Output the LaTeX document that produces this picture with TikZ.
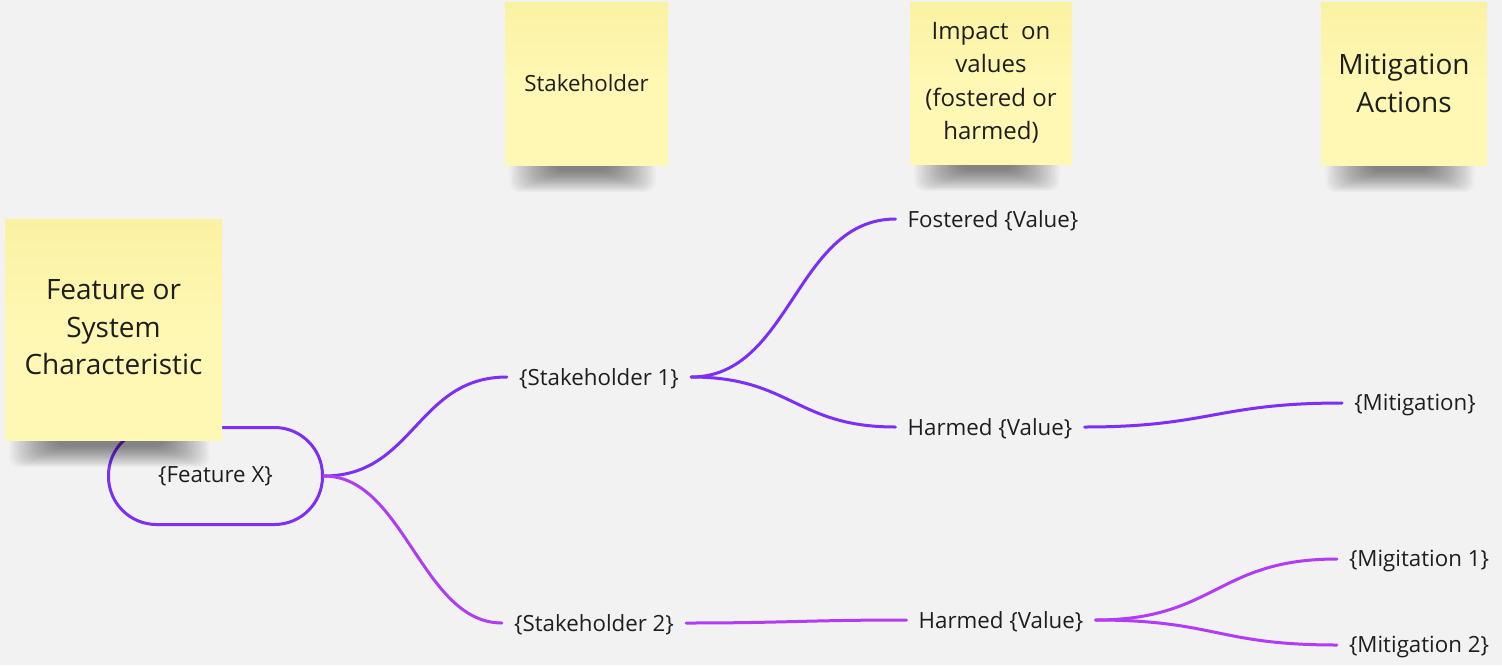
\documentclass[tikz,border=0pt]{standalone}
\usepackage{fontspec}
\setmainfont{Open Sans}
\definecolor{bg}{HTML}{F2F2F2}
\definecolor{notetop}{HTML}{FAF1A2}
\definecolor{notebot}{HTML}{FFF8B4}
\definecolor{vio}{HTML}{7B2FF7}
\definecolor{pur}{HTML}{B23BF5}
\definecolor{ink}{HTML}{1E1E1E}
\newcommand\mkshadow[3]{%
  \foreach \i in {1,...,20} {
    \fill[black,opacity=0.028,rounded corners=10pt]
      (#1+2+\i*2.4,#3-10) rectangle (#2-10-\i*2.4,#3+28-\i*1.1);
  }%
}
\tikzset{
  note/.style={rectangle, top color=notetop, bottom color=notebot, middle color=notebot,
    text=ink, align=center, inner sep=4pt},
  lbl/.style={text=ink, font=\fontsize{22.3}{28}\selectfont, inner xsep=12pt, inner ysep=2pt},
  vline/.style={draw=vio, line width=3pt, line cap=round},
  pline/.style={draw=pur, line width=3pt, line cap=round},
  pill/.style={draw=vio, line width=3pt, rounded corners=48pt, minimum width=214pt,
    minimum height=97pt, text=ink, font=\fontsize{22.3}{28}\selectfont}
}
\begin{document}
\begin{tikzpicture}[x=1pt,y=-1pt]
\fill[bg] (0,0) rectangle (1502,665);
\useasboundingbox (0,0) rectangle (1502,665);

% main node
\node[pill] (fx) at (215.5,476) {\raisebox{-4pt}{\{Feature X\}}};

% text nodes
\node[lbl] (s1) at (599,379) {\{Stakeholder 1\}};
\node[lbl] (s2) at (594,625) {\{Stakeholder 2\}};
\node[lbl] (fv) at (993,221) {Fostered \{Value\}};
\node[lbl] (h1) at (990,429) {Harmed \{Value\}};
\node[lbl] (h2) at (1001,622) {Harmed \{Value\}};
\node[lbl] (m0) at (1415,405) {\{Mitigation\}};
\node[lbl] (m1) at (1419,561) {\{Migitation 1\}};
\node[lbl] (m2) at (1419,647) {\{Mitigation 2\}};

% connectors
\draw[vline] (fx.east) .. controls +(90,0) and +(-90,0) .. ([yshift=2pt]s1.west);
\draw[pline] (fx.east) .. controls +(80,0) and +(-80,0) .. ([yshift=2pt]s2.west);
\draw[vline] ([yshift=2pt]s1.east) .. controls +(100,0) and +(-100,0) .. ([yshift=2pt]fv.west);
\draw[vline] ([yshift=2pt]s1.east) .. controls +(100,0) and +(-100,0) .. ([yshift=2pt]h1.west);
\draw[vline] ([yshift=2pt]h1.east) .. controls +(125,0) and +(-125,0) .. ([yshift=2pt]m0.west);
\draw[pline] ([yshift=2pt]s2.east) .. controls +(100,0) and +(-100,0) .. ([yshift=2pt]h2.west);
\draw[pline] ([yshift=2pt]h2.east) .. controls +(120,0) and +(-120,0) .. ([yshift=2pt]m1.west);
\draw[pline] ([yshift=2pt]h2.east) .. controls +(120,0) and +(-120,0) .. ([yshift=2pt]m2.west);

% sticky notes with shadows
\mkshadow{5}{222}{440}
\node[note, minimum width=217pt, minimum height=221pt,
  font=\fontsize{28}{38}\selectfont] (nfeat) at (113.5,329.5)
  {\raisebox{3pt}{\begin{tabular}{@{}c@{}}Feature or\\[-0.5pt]System\\[-0.5pt]Characteristic\end{tabular}}};

\mkshadow{505}{668}{165}
\node[note, minimum width=163pt, minimum height=163pt,
  font=\fontsize{22.3}{28}\selectfont] (nstk) at (586.5,83.5) {Stakeholder};

\mkshadow{910}{1072}{164}
\node[note, minimum width=162pt, minimum height=162pt,
  font=\fontsize{24}{33.5}\selectfont] (nimp) at (991,83)
  {Impact\ \ on\\values\\(fostered or\\harmed)};

\mkshadow{1321}{1487}{165}
\node[note, minimum width=166pt, minimum height=163pt,
  font=\fontsize{28}{38}\selectfont] (nmit) at (1404,83.5)
  {Mitigation\\Actions};
\end{tikzpicture}
\end{document}
